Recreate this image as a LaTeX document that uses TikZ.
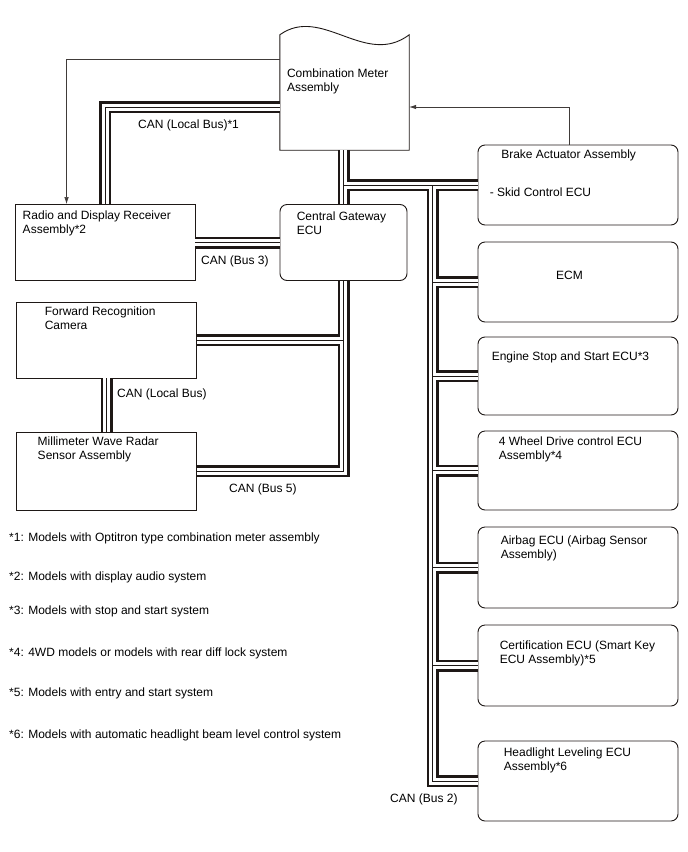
\documentclass[tikz,border=0pt]{standalone}
\usepackage{fontspec}
\setmainfont{Liberation Sans}
\usetikzlibrary{arrows.meta, calc}
\definecolor{wire}{RGB}{30, 24, 22}

\begin{document}
\begin{tikzpicture}[
    x=1pt, y=-1pt,
    >={Latex[length=7pt, width=4.5pt]},
    unit/.style={rectangle, draw=wire, line width=0.9pt, minimum width=180pt, minimum height=#1, inner sep=0pt},
    ecu/.style={rectangle, rounded corners=7pt, draw=wire, line width=0.9pt, minimum width=200pt, minimum height=#1, inner sep=0pt},
    lbl/.style={anchor=base west, inner sep=0pt, align=left, font=\fontsize{12}{14}\selectfont},
    sig/.style={draw=wire!85, line width=0.6pt},
  ]
  \useasboundingbox (0,0) rectangle (688,852);

  % Left side
  \node[minimum width=129pt, minimum height=115pt, inner sep=0pt] (meter) at (344.5,92.5) {};
  \node[unit=76pt] (radio) at (105,242.5) {};
  \node[ecu=76pt, minimum width=127pt] (gw) at (343.5,242.5) {};
  \node[unit=76pt] (cam) at (106.5,340) {};
  \node[unit=78pt] (radar) at (106.5,471) {};

  % Right column
  \node[ecu=80pt] (brake) at (578,185) {};
  \node[ecu=80pt] (ecm) at (578,282) {};
  \node[ecu=78pt] (eng) at (578,376) {};
  \node[ecu=79pt] (fwd) at (578,470.5) {};
  \node[ecu=81pt] (bag) at (578,567.5) {};
  \node[ecu=81pt] (cert) at (578,665.5) {};
  \node[ecu=80pt] (head) at (578,781) {};
  \coordinate (trunk) at ($(brake.west)+(-45,0)$);

  \draw[draw=wire, line width=0.9pt] (meter.north west)
    .. controls ($(meter.north west)+(42,-30)$) and ($(meter.north east)+(-44,33)$) .. (meter.north east)
    -- (meter.south east) -- (meter.south west) -- cycle;

  % CAN buses
  \foreach \w/\c in {12pt/wire, 7pt/white, 1pt/wire} {
    \draw[line width=\w, color=\c] ($(meter.west)+(0,14.5)$) -| (radio.north);
    \draw[line width=\w, color=\c] (radio.east) -- (gw.west);
    \draw[line width=\w, color=\c] (gw.north) -- (gw.north |- meter.south);
    \draw[line width=\w, color=\c] (gw.north |- brake.west) -- (brake.west);
    \draw[line width=\w, color=\c] (trunk) -- (trunk |- head.west) -- (head.west);
    \foreach \n in {ecm, eng, fwd, bag, cert}
      \draw[line width=\w, color=\c] (trunk |- \n.west) -- (\n.west);
    \draw[line width=\w, color=\c] (gw.south) |- (radar.east);
    \draw[line width=\w, color=\c] (gw.south |- cam.east) -- (cam.east);
    \draw[line width=\w, color=\c] (cam.south) -- (radar.north);
  }

  \draw[sig, ->] ($(meter.west)+(0,-33.5)$) -| ($(radio.north west)+(52,0)$);
  \draw[sig, ->] ($(brake.north)+(-9,0)$) |- ($(meter.east)+(0,14.5)$);

  % Box texts (base is on the last line)
  \node[lbl] (tmeter) at ($(meter.north west)+(7,56.5)$) {Combination Meter\\Assembly};
  \node[lbl] (tradio) at ($(radio.north west)+(8,29.5)$) {Radio and Display Receiver\\Assembly*2};
  \node[lbl] (tgw) at ($(gw.north west)+(17,30)$) {Central Gateway\\ECU};
  \node[lbl] (tcam) at ($(cam.north west)+(28.5,28)$) {Forward Recognition\\Camera};
  \node[lbl] (tradar) at ($(radar.north west)+(21.5,28)$) {Millimeter Wave Radar\\Sensor Assembly};
  \node[lbl] (tbrake) at ($(brake.north west)+(23.5,14)$) {Brake Actuator Assembly};
  \node[lbl] (tskid) at ($(brake.north west)+(12,51.5)$) {- Skid Control ECU};
  \node[lbl, anchor=base] (tecm) at ($(ecm.center)+(-8.5,-3)$) {ECM};
  \node[lbl] (teng) at ($(eng.north west)+(14,24)$) {Engine Stop and Start ECU*3};
  \node[lbl] (tfwd) at ($(fwd.north west)+(21,29)$) {4 Wheel Drive control ECU\\Assembly*4};
  \node[lbl] (tbag) at ($(bag.north west)+(23,32)$) {Airbag ECU (Airbag Sensor\\Assembly)};
  \node[lbl] (tcert) at ($(cert.north west)+(22,39)$) {Certification ECU (Smart Key\\ECU Assembly)*5};
  \node[lbl] (thead) at ($(head.north west)+(26,30)$) {Headlight Leveling ECU\\Assembly*6};

  % Bus names
  \node[lbl] (can1) at (138,128) {CAN (Local Bus)*1};
  \node[lbl] (can3) at (201,264) {CAN (Bus 3)};
  \node[lbl] (canl) at (117,397) {CAN (Local Bus)};
  \node[lbl] (can5) at (229,492) {CAN (Bus 5)};
  \node[lbl] (can2) at (390,802) {CAN (Bus 2)};

  % Notes
  \foreach \i/\y/\t in {1/541/{*1: Models with Optitron type combination meter assembly},
                        2/580/{*2: Models with display audio system},
                        3/614/{*3: Models with stop and start system},
                        4/656/{*4: 4WD models or models with rear diff lock system},
                        5/696/{*5: Models with entry and start system},
                        6/738/{*6: Models with automatic headlight beam level control system}}
    \node[lbl] (note\i) at (9,\y) {\t};

\end{tikzpicture}
\end{document}
